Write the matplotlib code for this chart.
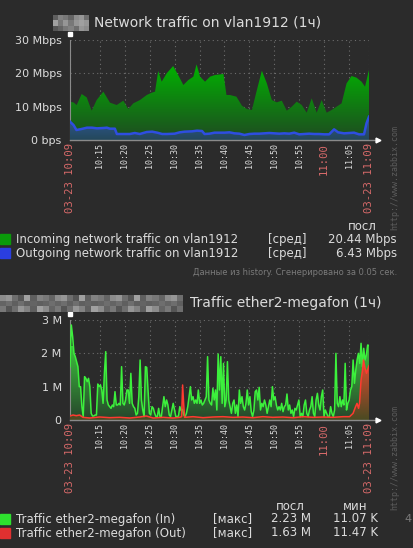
import numpy as np
import matplotlib
matplotlib.use('Agg')
import matplotlib.pyplot as plt
from matplotlib.patches import Polygon, Rectangle
from matplotlib.colors import LinearSegmentedColormap

W, H = 413, 548
BG = '#2b2b2b'
TXT = '#dcdcdc'
RED_TXT = '#d86a6a'

# x axis ticks (minutes after 10:09)
tick_min = [0, 6, 11, 16, 21, 26, 31, 36, 41, 46, 51, 56, 60]
tick_lbl = ['03-23 10:09', '10:15', '10:20', '10:25', '10:30', '10:35', '10:40',
            '10:45', '10:50', '10:55', '11:00', '11:05', '03-23 11:09']
tick_red = [True, False, False, False, False, False, False,
            False, False, False, True, False, True]

# top chart: vlan1912, Mbps
in_t = [0, 0.67, 1.34, 2.34, 3.35, 4.35, 5.35, 6.69, 8.03, 9.37, 10.7, 11.7, 12.7,
        14.05, 15.4, 16.4, 17.06, 17.7, 18.4, 19.4, 20.7, 21.7, 22.75, 23.75, 24.75,
        25.4, 26.1, 27.1, 28.1, 29.1, 30.8, 31.4, 32.1, 33.4, 34.5, 35.5, 36.5, 37.5,
        38.5, 39.5, 40.5, 41.5, 42.5, 43.5, 44.5, 45.5, 46.5, 47.5, 48.5, 49.5, 50.5,
        51.5, 52.5, 53.5, 54.5, 55.5, 56.5, 57.5, 58.5, 59.2, 60]
in_v = [11.5, 11.3, 10.5, 13.8, 12.8, 8.8, 12.0, 14.5, 11.2, 10.5, 11.8, 9.3, 11.0,
        12.0, 13.5, 14.2, 14.5, 20.7, 17.5, 20.0, 22.2, 19.5, 16.5, 18.0, 19.0,
        22.7, 19.0, 17.5, 19.0, 19.5, 19.8, 13.5, 13.5, 13.0, 10.3, 9.3, 9.0, 15.0,
        20.8, 17.0, 12.0, 11.3, 11.8, 8.8, 10.0, 11.5, 10.5, 8.2, 12.5, 8.2, 12.0,
        8.2, 9.0, 10.0, 11.0, 17.0, 19.2, 18.7, 17.5, 16.0, 21.0]
out_t = [0, 0.7, 1.3, 2.3, 3.4, 4.4, 5.4, 6.7, 7.4, 8.0, 9.0, 9.4, 10.5, 12, 13, 14,
         15.4, 16.5, 17.5, 18.5, 19.5, 21, 22, 23, 24.5, 25.5, 26.5, 27, 28, 29, 30,
         31, 32, 33, 34, 35, 36, 37, 38, 39, 40, 41, 42, 43, 44, 45, 46, 47, 48, 49,
         50, 51, 52, 53, 53.8, 55, 56, 57, 58, 59, 59.5, 60]
out_v = [5.5, 4.5, 3.0, 3.3, 3.7, 3.7, 3.5, 3.6, 3.7, 3.4, 3.4, 1.8, 1.8, 1.8, 2.1,
         1.8, 2.4, 2.5, 2.2, 1.8, 1.8, 1.9, 2.3, 2.5, 2.6, 2.8, 2.7, 1.8, 1.9, 2.2,
         2.2, 2.2, 2.3, 2.0, 1.9, 1.5, 1.8, 1.9, 1.9, 2.0, 2.1, 2.0, 1.9, 2.0, 1.9,
         2.2, 1.7, 1.8, 1.9, 1.8, 1.8, 1.7, 1.7, 3.2, 2.3, 2.0, 2.1, 2.2, 1.7, 1.7,
         5.0, 7.0]

# bottom chart: ether2-megafon, M (evenly sampled over the hour)
eth_in = [1.6, 2.85, 2.5, 2.0, 1.9, 1.75, 1.6, 1.0, 1.0, 0.4, 0.1, 1.3, 1.25, 1.15,
          1.25, 1.0, 0.2, 0.12, 0.12, 0.15, 0.15, 1.08, 1.0, 1.05, 0.9, 0.5, 1.4,
          2.05, 0.6, 0.45, 0.4, 0.35, 0.45, 0.4, 0.85, 0.45, 0.45, 0.5, 0.45, 1.6,
          0.5, 0.45, 0.6, 0.9, 0.9, 0.5, 1.4, 0.5, 0.4, 0.35, 0.15, 0.2, 0.7, 1.8,
          0.6, 0.3, 0.1, 1.6, 1.58, 0.9, 0.2, 0.15, 0.4, 0.35, 0.2, 0.1, 0.1, 0.35,
          0.1, 0.1, 0.4, 0.7, 0.4, 0.6, 0.45, 0.15, 0.1, 0.3, 0.5, 0.3, 0.1, 0.1,
          0.12, 0.4, 0.28, 0.32,
          0.15, 0.1, 0.2, 0.4, 0.7, 1.0, 0.6, 0.7, 0.5, 0.6, 0.5, 0.9, 0.5, 0.6,
          0.45, 0.5, 0.6, 0.7, 1.9, 0.6, 0.5, 0.45, 0.95, 0.6, 0.9, 0.3, 1.98, 0.9,
          1.9, 0.5, 1.7, 0.4, 0.6, 1.75, 0.6, 0.4, 0.2, 0.5, 0.6, 0.2, 0.45, 0.1,
          0.9, 0.5, 0.7, 0.4, 0.3, 0.5, 0.9, 0.45, 0.7, 0.25, 0.1, 0.3, 0.85, 0.9,
          0.6, 0.98, 0.3, 0.5, 0.4, 0.6, 0.45, 0.2, 0.4, 0.6, 0.4, 1.0, 0.6, 0.7,
          0.45, 0.3, 0.4, 0.3, 0.5, 0.25, 0.4, 0.45, 0.78, 0.3, 0.45, 0.2, 0.3, 0.1,
          0.35, 0.3, 0.45, 0.6, 0.1, 0.2, 0.1, 0.45, 0.6, 0.2, 0.1, 0.3, 0.4, 0.7,
          0.2, 0.1, 0.6, 0.8, 0.45, 0.3, 0.7, 0.9, 0.1, 0.3, 0.2, 0.1, 0.1, 0.4,
          0.2, 0.1, 0.3, 2.0, 0.5, 0.4, 0.7, 0.4, 0.6, 0.45, 1.7, 0.3, 0.5, 0.6,
          0.9, 1.0, 1.8, 1.1, 1.5, 1.8, 2.0, 1.7, 2.3, 1.6, 2.15, 1.8, 1.95, 2.25,
          2.23]
eth_out_t = [0, 0.6, 1.27, 1.94, 2.6, 3.95, 5.95, 7.96, 9.97, 12.0, 14.0, 15.3, 16.7,
             18.7, 20.7, 22.0, 22.4, 22.6, 22.8, 23.0, 24.7, 26.7, 28.7, 30.7, 32.7,
             34.7, 36.7, 38.7, 40.7, 42.7, 44.8, 46.8, 48.8, 50.8, 52.8, 54.8, 56.1,
             56.8, 57.3, 57.6, 57.9, 58.1, 58.4, 58.7, 58.9, 59.2, 59.5, 59.7, 60]
eth_out = [0.12, 0.15, 0.13, 0.15, 0.08, 0.06, 0.09, 0.07, 0.08, 0.06, 0.09, 0.12,
           0.06, 0.08, 0.06, 0.08, 0.1, 1.05, 0.5, 0.08, 0.1, 0.07, 0.09, 0.1, 0.08,
           0.09, 0.07, 0.1, 0.08, 0.09, 0.07, 0.1, 0.08, 0.09, 0.08, 0.1, 0.1, 0.2,
           0.4, 0.5, 0.35, 0.5, 1.2, 1.5, 1.8, 1.55, 1.4, 1.5, 1.63]


def fx(x):
    return x / W


def fy(y):
    return 1 - y / H


def grad_fill(ax, t, v, c_bot, c_top, ymax, z):
    verts = [(t[0], 0)] + list(zip(t, v)) + [(t[-1], 0)]
    poly = Polygon(verts, closed=True, facecolor='none', edgecolor='none')
    ax.add_patch(poly)
    cmap = LinearSegmentedColormap.from_list('g', [c_bot, c_top])
    grad = np.linspace(0, 1, 256).reshape(-1, 1)
    im = ax.imshow(grad, cmap=cmap, extent=[0, 60, 0, ymax], origin='lower',
                   aspect='auto', zorder=z, interpolation='bilinear')
    im.set_clip_path(poly)


def setup_axes(ax, yticks, ylabels, ymax):
    ax.set_facecolor(BG)
    ax.set_xlim(0, 60)
    ax.set_ylim(0, ymax)
    for s in ['top', 'right', 'bottom']:
        ax.spines[s].set_visible(False)
    ax.spines['left'].set_color('#8a8a8a')
    ax.set_yticks(yticks)
    ax.set_yticklabels(ylabels, color=TXT, fontsize=8)
    ax.set_xticks(tick_min)
    ax.set_xticklabels(tick_lbl, rotation=90, va='top', ha='center',
                       family='DejaVu Sans Mono')
    for lab, red in zip(ax.get_xticklabels(), tick_red):
        lab.set_color(RED_TXT if red else TXT)
        lab.set_fontsize(7.6 if red else 6)
    ax.tick_params(axis='x', length=0, pad=2)
    ax.tick_params(axis='y', length=0, pad=6)
    ax.grid(True, color='#6e6e6e', linestyle=(0, (1, 3)), linewidth=0.8)
    ax.set_axisbelow(True)
    ax.plot([0, 1.03], [0, 0], transform=ax.transAxes, color='#8a8a8a', lw=1,
            clip_on=False, zorder=6)
    ax.plot([1.03], [0], transform=ax.transAxes, marker='>', color='white', ms=3.5,
            clip_on=False, zorder=7)
    ax.plot([0], [1.065], transform=ax.transAxes, marker='s', color='white', ms=2.5,
            clip_on=False, zorder=7)


def mosaic(x0, y0, x1, y1, cols, rows, shift):
    mx = fig.add_axes([fx(x0), fy(y1), fx(x1 - x0), (y1 - y0) / H])
    levels = [95, 120, 140, 110, 160, 130, 100, 150, 85]
    img = np.array([[levels[(i * 4 + j * 5 + (i * j) % 3 + shift) % len(levels)]
                     for j in range(cols)] for i in range(rows)]) / 255
    mx.imshow(img, cmap='gray', vmin=0, vmax=1, aspect='auto', interpolation='nearest')
    mx.axis('off')


fig = plt.figure(figsize=(W / 100, H / 100), dpi=100, facecolor=BG)

# ---------- top chart ----------
ax1 = fig.add_axes([fx(70), fy(140), fx(299), 100 / H])
setup_axes(ax1, [0, 10, 20, 30], ['0 bps', '10 Mbps', '20 Mbps', '30 Mbps'], 30)
grad_fill(ax1, in_t, in_v, '#1f4a22', '#00b400', 23, 2)
grad_fill(ax1, out_t, out_v, '#24485a', '#2f5aa0', 8, 3)
ax1.plot(out_t, out_v, color='#2e4ee0', lw=1.8, zorder=4)
ax1.set_xlim(0, 60)
ax1.set_ylim(0, 30)

mosaic(53, 15, 89, 31, 7, 3, 0)
fig.text(fx(94), fy(23), 'Network traffic on vlan1912 (1ч)', color=TXT,
         fontsize=10, va='center', ha='left')
fig.text(fx(395), fy(178), 'http://www.zabbix.com', color='#5c5c5c', fontsize=6,
         rotation=90, ha='center', va='center', family='DejaVu Sans Mono')

# top legend
fig.text(fx(362), fy(227), 'посл', color=TXT, fontsize=8.5, ha='center', va='center')
for y, col, name, val in [(239, '#0a9a0a', 'Incoming network traffic on vlan1912', '20.44 Mbps'),
                          (253, '#2a3ee0', 'Outgoing network traffic on vlan1912', '6.43 Mbps')]:
    fig.patches.append(Rectangle((fx(0), fy(y + 5)), fx(10), 10 / H, color=col,
                                 transform=fig.transFigure, figure=fig))
    fig.text(fx(16), fy(y), name, color=TXT, fontsize=8.5, va='center')
    fig.text(fx(268), fy(y), '[сред]', color=TXT, fontsize=8.5, va='center')
    fig.text(fx(397), fy(y), val, color=TXT, fontsize=8.5, va='center', ha='right')
fig.text(fx(397), fy(273), 'Данные из history. Сгенерировано за 0.05 сек.',
         color='#7a7a7a', fontsize=6, ha='right', va='center')

# ---------- bottom chart ----------
ax2 = fig.add_axes([fx(70), fy(420), fx(299), 100 / H])
setup_axes(ax2, [0, 1, 2, 3], ['0', '1 M', '2 M', '3 M'], 3)
eth_t = np.linspace(0, 60, len(eth_in))
grad_fill(ax2, eth_t, eth_in, '#27452c', '#3cc03c', 2.2, 2)
ax2.plot(eth_t, eth_in, color='#3cf03c', lw=1.1, zorder=4)
grad_fill(ax2, eth_out_t, eth_out, '#4a4a22', '#e04a30', 1.8, 3)
ax2.plot(eth_out_t, eth_out, color='#ff3a30', lw=1.1, zorder=5)
ax2.set_xlim(0, 60)
ax2.set_ylim(0, 3)

mosaic(0, 295, 183, 312, 30, 3, 2)
fig.text(fx(190), fy(303), 'Traffic ether2-megafon (1ч)', color=TXT,
         fontsize=10, va='center', ha='left')
fig.text(fx(395), fy(458), 'http://www.zabbix.com', color='#5c5c5c', fontsize=6,
         rotation=90, ha='center', va='center', family='DejaVu Sans Mono')

# bottom legend
fig.text(fx(290), fy(506), 'посл', color=TXT, fontsize=8.5, ha='center', va='center')
fig.text(fx(355), fy(506), 'мин', color=TXT, fontsize=8.5, ha='center', va='center')
for y, col, name, last, mn in [(519, '#2ee02e', 'Traffic ether2-megafon (In)', '2.23 M', '11.07 K'),
                               (533, '#e03030', 'Traffic ether2-megafon (Out)', '1.63 M', '11.47 K')]:
    fig.patches.append(Rectangle((fx(0), fy(y + 5)), fx(10), 10 / H, color=col,
                                 transform=fig.transFigure, figure=fig))
    fig.text(fx(16), fy(y), name, color=TXT, fontsize=8.5, va='center')
    fig.text(fx(213), fy(y), '[макс]', color=TXT, fontsize=8.5, va='center')
    fig.text(fx(311), fy(y), last, color=TXT, fontsize=8.5, va='center', ha='right')
    fig.text(fx(378), fy(y), mn, color=TXT, fontsize=8.5, va='center', ha='right')
fig.text(fx(404), fy(519), '4', color='#7a7a7a', fontsize=8, va='center')

fig.savefig('out.png', dpi=100, facecolor=BG)
